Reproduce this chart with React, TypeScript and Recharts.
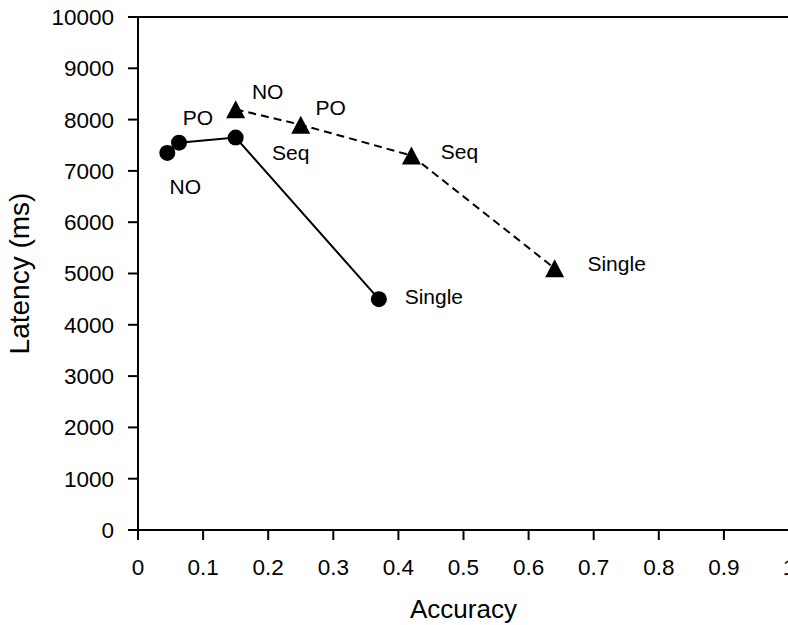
import { ScatterChart, Scatter, XAxis, YAxis, ReferenceLine } from 'recharts';

// tick values
const accuracyTicks = [0, 0.1, 0.2, 0.3, 0.4, 0.5, 0.6, 0.7, 0.8, 0.9, 1];
const latencyTicks = [0, 1000, 2000, 3000, 4000, 5000, 6000, 7000, 8000, 9000, 10000];

// point names, same order for both series
const methods = ['NO', 'PO', 'Seq', 'Single'];

// circle series (solid line)
const circleAccuracy = [0.045, 0.063, 0.15, 0.37];
const circleLatency = [7350, 7550, 7650, 4500];

// triangle series (dashed line)
const triangleAccuracy = [0.15, 0.25, 0.42, 0.64];
const triangleLatency = [8200, 7900, 7300, 5100];

const FONT = '"Liberation Sans", Arial, Helvetica, sans-serif';

// where each point's name sits relative to its marker (label centre)
const circleLabelShift = [[18, 34], [19, -25], [55, 15], [55, -3]];
const triangleLabelShift = [[32, -18], [30, -17], [48, -4], [62, -5]];

const circleData = circleAccuracy.map((x, i) => ({ x, y: circleLatency[i], method: methods[i], i }));
const triangleData = triangleAccuracy.map((x, i) => ({ x, y: triangleLatency[i], method: methods[i], i }));

function PointLabel({ cx, cy, text, shift }: { cx: number; cy: number; text: string; shift: number[] }) {
    return (
        <text
            x={cx + shift[0]}
            y={cy + shift[1] + 7.5}
            textAnchor="middle"
            fontSize={21}
            fontFamily={FONT}
            fill="#000"
        >
            {text}
        </text>
    );
}

const circleShape = (props: any) => {
    const { cx, cy, payload } = props;
    return (
        <g>
            <circle cx={cx} cy={cy} r={8} fill="#000" />
            <PointLabel cx={cx} cy={cy} text={payload.method} shift={circleLabelShift[payload.i]} />
        </g>
    );
};

const triangleShape = (props: any) => {
    const { cx, cy, payload } = props;
    const pts = `${cx},${cy - 9} ${cx - 9.5},${cy + 9} ${cx + 9.5},${cy + 9}`;
    return (
        <g>
            <polygon points={pts} fill="#000" />
            <PointLabel cx={cx} cy={cy} text={payload.method} shift={triangleLabelShift[payload.i]} />
        </g>
    );
};

export default function App() {
    const tickStyle = { fontSize: 22.5, fontFamily: FONT, fill: '#000' };
    const axisStroke = { stroke: '#000', strokeWidth: 2 };

    return (
        <div style={{ position: 'absolute', left: 0, top: 0, width: 788, height: 625, overflow: 'hidden', background: '#fff' }}>
            <ScatterChart width={800} height={625} margin={{ top: 17, right: 11, left: 0, bottom: 0 }}>
                <XAxis
                    type="number"
                    dataKey="x"
                    domain={[0, 1]}
                    ticks={accuracyTicks}
                    interval={0}
                    height={95}
                    tick={tickStyle}
                    tickSize={10}
                    tickMargin={19}
                    axisLine={axisStroke}
                    tickLine={axisStroke}
                    label={{
                        value: 'Accuracy',
                        position: 'insideBottom',
                        offset: 7,
                        style: { fontSize: 26, fontFamily: FONT, fill: '#000' },
                    }}
                />
                <YAxis
                    type="number"
                    dataKey="y"
                    domain={[0, 10000]}
                    ticks={latencyTicks}
                    interval={0}
                    width={138}
                    tick={tickStyle}
                    tickSize={10}
                    tickMargin={14}
                    axisLine={axisStroke}
                    tickLine={axisStroke}
                    label={{
                        value: 'Latency (ms)',
                        angle: -90,
                        position: 'insideLeft',
                        offset: 19,
                        style: { fontSize: 28, fontFamily: FONT, fill: '#000', textAnchor: 'middle' },
                    }}
                />
                <ReferenceLine y={10000} stroke="#000" strokeWidth={2} />
                <ReferenceLine x={1} stroke="#000" strokeWidth={2} />
                <Scatter
                    data={circleData}
                    shape={circleShape}
                    line={{ stroke: '#000', strokeWidth: 2 }}
                    isAnimationActive={false}
                />
                <Scatter
                    data={triangleData}
                    shape={triangleShape}
                    line={{ stroke: '#000', strokeWidth: 2, strokeDasharray: '8 5' }}
                    isAnimationActive={false}
                />
            </ScatterChart>
        </div>
    );
}
